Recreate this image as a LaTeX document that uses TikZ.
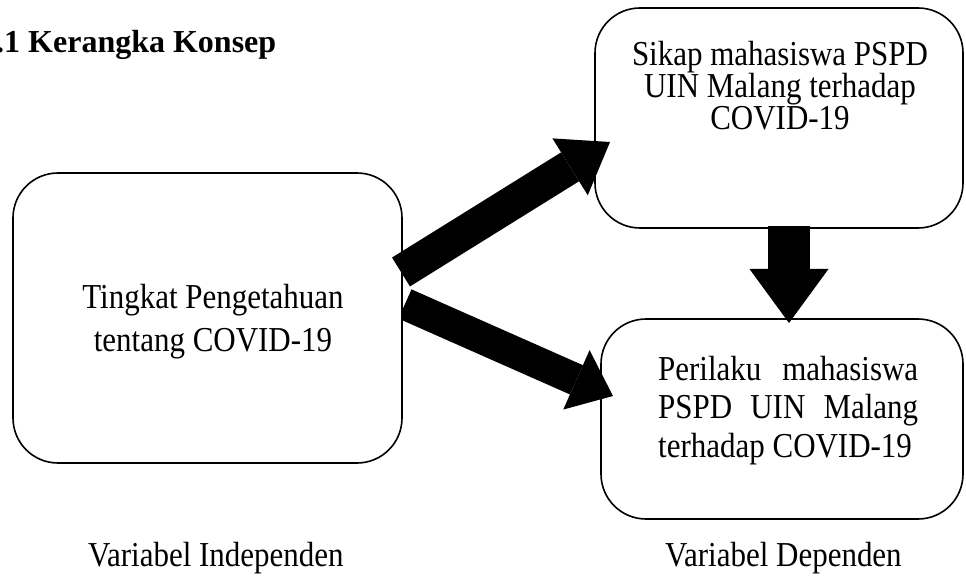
\documentclass[tikz,border=0pt]{standalone}
\usepackage{fontspec}
\setmainfont{Liberation Serif}
% slightly condensed face for the body texts
\newfontfamily\narrowserif{Liberation Serif}[FakeStretch=0.885]
\usetikzlibrary{arrows.meta}
\begin{document}
\begin{tikzpicture}[x=1pt,y=-1pt,
  conceptbox/.style={draw=black,line width=1.6pt,rounded corners=45pt,fill=white,
    inner sep=0pt,rectangle},
  boxtext/.style={inner sep=0pt},
  caption/.style={inner sep=0pt,anchor=base west,font=\narrowserif\fontsize{35}{38}\selectfont},
  bigarrow/.style={line width=#1,line cap=butt},
]
\useasboundingbox (0,0) rectangle (966,577);

% heading
\node[inner sep=0pt,anchor=base west,font=\fontsize{32}{36}\selectfont\bfseries]
  (title) at (-4,53) {.1 Kerangka Konsep};

% dependent variables
\node[conceptbox,minimum width=368pt,minimum height=220pt] (sikap) at (779,118) {};
\node[conceptbox,minimum width=362pt,minimum height=200pt] (perilaku) at (782,419) {};

% arrow from knowledge to behaviour (passes behind the left box)
\coordinate (dnS) at (405,304);
\coordinate (dnT) at (613,396);
\draw[bigarrow=32pt,-{Triangle[width=65pt,length=40pt,line width=0pt]}] (dnS) -- (dnT);

% independent variable
\node[conceptbox,minimum width=389pt,minimum height=290pt] (tingkat) at (207.5,318) {};

% arrow from knowledge to attitude
\coordinate (upS) at (401,272);
\coordinate (upT) at (610,142);
\draw[bigarrow=34pt,-{Triangle[width=67pt,length=47pt,line width=0pt]}] (upS) -- (upT);

% arrow from attitude to behaviour
\coordinate (vS) at (789,226);
\coordinate (vT) at (789,323);
\draw[bigarrow=42pt,-{Triangle[width=79pt,length=54pt,line width=0pt]}] (vS) -- (vT);

% box texts
\node[boxtext,anchor=north,align=center,font=\narrowserif\fontsize{35}{32}\selectfont]
  (sikapText) at (780,41) {Sikap mahasiswa PSPD\\UIN Malang terhadap\\COVID-19};
\node[boxtext,anchor=north,align=center,font=\narrowserif\fontsize{35}{43}\selectfont]
  (tingkatText) at (213,284) {Tingkat Pengetahuan\\tentang COVID-19};
\node[boxtext,anchor=north west,font=\narrowserif\fontsize{35}{38.5}\selectfont]
  (perilakuText) at (658,356)
  {\parbox[t]{260pt}{Perilaku\hfill mahasiswa\\PSPD\hfill UIN\hfill Malang\\terhadap COVID-19}};

% variable labels
\node[caption] (indep) at (88,566) {Variabel Independen};
\node[caption] (dep) at (665,566) {Variabel Dependen};
\end{tikzpicture}
\end{document}
